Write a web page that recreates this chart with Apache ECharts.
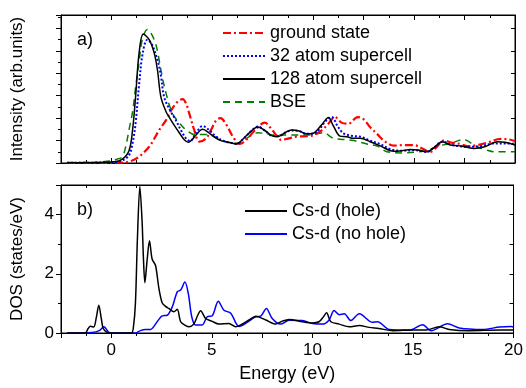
<!DOCTYPE html>
<html>
<head>
<meta charset="utf-8">
<script src="https://cdn.jsdelivr.net/npm/echarts@6/dist/echarts.min.js"></script>
<style>html,body{margin:0;padding:0;background:#fff}#c{width:526px;height:388px}</style>
</head>
<body>
<div id="c"></div>
<script>
// ---- data (energy in eV, intensity in arb. units, DOS in states/eV) ----
const xTickLabels = [0, 5, 10, 15, 20];
const dosTickLabels = [0, 2, 4];

const groundState = [[-2.2,0.02],[0,0.02],[0.54,0.03],[1.0,0.2],[1.37,0.56],[1.87,1.45],[2.1,2.1],[2.37,2.95],[2.7,3.8],[3.03,4.9],[3.3,5.5],[3.53,5.7],[3.7,5.3],[3.86,4.4],[4.1,2.95],[4.36,1.9],[4.69,2.2],[4.95,3.0],[5.19,3.8],[5.4,4.0],[5.7,3.4],[6.02,2.35],[6.35,1.7],[6.7,2.1],[7.1,2.9],[7.6,3.6],[7.9,3.1],[8.2,2.4],[8.42,2.05],[8.8,2.2],[9.17,2.35],[9.83,2.4],[10.33,2.8],[10.7,3.4],[11.08,4.1],[11.4,3.6],[11.74,3.5],[12.2,4.1],[12.5,3.9],[12.82,3.2],[13.16,2.6],[13.5,2.0],[13.98,1.55],[14.5,1.6],[14.98,1.6],[15.4,1.3],[15.8,1.0],[16.1,1.4],[16.47,2.0],[16.9,1.8],[17.3,1.7],[17.64,1.5],[18.14,1.6],[18.6,1.8],[19.3,2.15],[19.7,2.1],[20,1.95]];

const atom32 = [[-2.2,0.02],[-1,0.03],[0,0.06],[0.5,0.2],[0.87,0.7],[1.05,1.8],[1.2,3.6],[1.37,7.0],[1.55,9.8],[1.78,11.0],[2.0,10.6],[2.28,9.2],[2.45,7.8],[2.61,5.9],[2.9,4.7],[3.2,3.8],[3.45,2.9],[3.7,2.2],[3.9,1.95],[4.2,2.7],[4.52,3.3],[4.86,2.9],[5.19,2.35],[5.5,2.0],[5.9,1.8],[6.2,1.7],[6.5,2.1],[6.9,2.8],[7.26,3.25],[7.6,2.9],[8.0,2.4],[8.3,2.4],[8.6,2.7],[8.92,2.9],[9.3,2.85],[9.67,2.6],[10.0,2.6],[10.3,3.0],[10.6,3.7],[10.92,4.1],[11.2,3.3],[11.5,2.65],[12.0,2.4],[12.33,2.35],[12.82,2.0],[13.3,1.7],[13.98,1.15],[14.5,1.1],[15.0,1.15],[15.65,1.0],[16.0,1.4],[16.4,1.9],[16.9,1.6],[17.6,1.45],[18.3,1.5],[18.97,1.75],[19.5,1.75],[20,1.7]];

const atom128 = [[-2.2,0.02],[-1,0.03],[0,0.08],[0.5,0.3],[0.87,1.1],[1.05,3.0],[1.2,6.0],[1.37,9.8],[1.58,11.5],[1.87,11.0],[2.12,9.8],[2.28,8.3],[2.45,5.9],[2.7,4.6],[2.86,4.1],[3.1,3.4],[3.36,2.7],[3.6,2.1],[3.81,1.85],[4.0,2.1],[4.19,2.5],[4.52,3.0],[4.86,2.65],[5.2,2.2],[5.5,1.95],[5.9,1.8],[6.2,1.7],[6.5,2.1],[6.9,2.8],[7.26,3.2],[7.6,2.9],[8.0,2.4],[8.24,2.35],[8.6,2.7],[8.92,2.95],[9.3,2.85],[9.67,2.6],[10.0,2.65],[10.2,2.95],[10.5,3.6],[10.75,4.05],[11.0,3.3],[11.33,2.4],[11.66,2.35],[12.0,2.2],[12.33,2.2],[12.82,1.9],[13.3,1.55],[13.98,1.05],[14.4,1.1],[14.8,1.2],[15.2,1.15],[15.65,1.0],[16.0,1.4],[16.4,1.9],[16.8,1.6],[17.14,1.55],[17.5,1.45],[17.97,1.3],[18.5,1.45],[19.13,1.9],[19.5,1.85],[20,1.6]];

const bse = [[-2.2,0.02],[-1,0.05],[-0.5,0.1],[0,0.2],[0.3,0.35],[0.54,0.56],[0.7,1.4],[0.87,2.95],[1.05,4.6],[1.2,6.8],[1.37,9.0],[1.53,11.0],[1.78,11.9],[2.12,11.0],[2.3,9.8],[2.45,8.3],[2.7,6.25],[3.03,4.4],[3.4,3.5],[3.7,2.95],[4.19,2.5],[4.5,2.55],[4.86,2.5],[5.3,2.2],[5.69,1.9],[6.0,1.8],[6.27,1.75],[6.7,2.2],[7.26,2.7],[7.7,2.6],[8.0,2.5],[8.9,2.5],[9.67,2.5],[10.2,2.6],[10.5,2.7],[11.0,2.2],[11.5,2.1],[12.0,2.0],[12.66,1.7],[13.2,1.5],[13.65,1.0],[14.5,0.9],[15.2,1.0],[15.65,1.15],[16.2,1.5],[16.8,1.75],[17.47,2.1],[17.8,1.8],[18.14,1.45],[18.6,1.15],[18.97,1.0],[20,1.0]];

const csdHole = [[-2.2,0],[-1.3,0],[-1.15,0.15],[-1.04,0.23],[-0.87,0.2],[-0.75,0.5],[-0.62,0.94],[-0.5,0.5],[-0.4,0.15],[-0.21,0.02],[0,0],[1.0,0],[1.1,0.2],[1.2,1.0],[1.3,3.2],[1.42,4.95],[1.53,3.8],[1.6,2.5],[1.67,1.7],[1.78,2.45],[1.9,3.12],[2.03,2.5],[2.2,2.28],[2.37,1.5],[2.53,1.02],[2.7,0.9],[2.86,0.83],[3.11,0.72],[3.28,0.8],[3.45,0.38],[3.7,0.25],[3.86,0.21],[4.1,0.3],[4.3,0.6],[4.44,0.75],[4.69,0.49],[5.0,0.4],[5.35,0.3],[5.85,0.32],[6.18,0.21],[6.5,0.3],[6.85,0.44],[7.18,0.57],[7.68,0.44],[8.18,0.3],[8.5,0.4],[8.84,0.46],[9.5,0.38],[10.0,0.34],[10.33,0.38],[10.55,0.55],[10.7,0.68],[10.92,0.38],[11.33,0.3],[11.83,0.21],[12.33,0.25],[12.82,0.19],[13.3,0.15],[14.0,0.08],[15.0,0.1],[15.65,0.1],[16.3,0.21],[16.8,0.12],[17.8,0.08],[19.3,0.1],[20,0.1]];

const csdNoHole = [[-2.2,0],[-0.95,0.02],[-0.6,0.08],[-0.37,0.21],[-0.12,0.02],[0,0],[1.2,0],[1.45,0.08],[1.7,0.12],[1.95,0.12],[2.28,0.38],[2.53,0.58],[2.78,0.6],[3.03,0.88],[3.28,1.39],[3.45,1.45],[3.66,1.72],[3.83,1.33],[4.0,0.55],[4.19,0.27],[4.52,0.27],[4.77,0.55],[5.02,0.58],[5.32,1.07],[5.6,0.77],[5.94,0.67],[6.35,0.22],[6.76,0.36],[7.18,0.55],[7.43,0.57],[7.71,0.83],[8.0,0.49],[8.42,0.3],[8.84,0.43],[9.5,0.42],[10.0,0.32],[10.5,0.3],[10.83,0.44],[11.08,0.76],[11.33,0.62],[11.58,0.65],[11.91,0.42],[12.33,0.65],[12.99,0.36],[13.24,0.38],[13.82,0.12],[14.82,0.1],[15.48,0.28],[15.9,0.08],[16.72,0.31],[17.3,0.17],[18.47,0.12],[19.3,0.2],[19.88,0.22],[20,0.2]];

// ---- chart ----
const FONT = "'Liberation Sans', Arial, sans-serif";
const chart = echarts.init(document.getElementById('c'), null, {renderer: 'canvas'});
const black = '#000';

function xAx(grid, pos, showLabels, inside, name) {
  return {
    type: 'value', gridIndex: grid, position: pos, min: -2.5, max: 20, interval: 2.5,
    axisLine: {show: true, onZero: false, lineStyle: {color: black, width: 1}},
    axisTick: {show: true, inside: inside, length: 5, lineStyle: {color: black}},
    minorTick: {show: true, splitNumber: 2, length: 3, lineStyle: {color: black}},
    splitLine: {show: false},
    axisLabel: {show: showLabels, margin: 9, color: black, fontFamily: FONT, fontSize: 17,
      formatter: v => (xTickLabels.indexOf(v) >= 0 ? String(v) : '')},
    name: name || '', nameLocation: 'middle', nameGap: 32,
    nameTextStyle: {color: black, fontFamily: FONT, fontSize: 18}
  };
}

const option = {
  animation: false,
  backgroundColor: '#fff',
  grid: [
    {left: 61, top: 15, width: 454, height: 148, show: true, borderColor: black, borderWidth: 1},
    {left: 61, top: 185, width: 454, height: 148, show: true, borderColor: black, borderWidth: 1}
  ],
  xAxis: [
    xAx(0, 'bottom', false, true),
    xAx(0, 'top', false, true),
    xAx(1, 'bottom', true, false, 'Energy (eV)'),
    xAx(1, 'top', false, true)
  ],
  yAxis: [
    {type: 'value', gridIndex: 0, position: 'left', min: 0, max: 13.2, interval: 2,
      axisLine: {show: true, onZero: false, lineStyle: {color: black}},
      axisTick: {show: true, inside: false, length: 5, lineStyle: {color: black}},
      minorTick: {show: true, splitNumber: 2, length: 3, lineStyle: {color: black}},
      splitLine: {show: false}, axisLabel: {show: false},
      name: 'Intensity (arb.units)', nameLocation: 'middle', nameGap: 35, nameRotate: 90,
      nameTextStyle: {color: black, fontFamily: FONT, fontSize: 17}},
    {type: 'value', gridIndex: 0, position: 'right', min: 0, max: 13.2, interval: 2,
      axisLine: {show: true, onZero: false, lineStyle: {color: black}},
      axisTick: {show: true, inside: true, length: 4, lineStyle: {color: black}},
      splitLine: {show: false}, axisLabel: {show: false}},
    {type: 'value', gridIndex: 1, position: 'left', min: 0, max: 5, interval: 2,
      axisLine: {show: true, onZero: false, lineStyle: {color: black}},
      axisTick: {show: true, inside: false, length: 5, lineStyle: {color: black}},
      minorTick: {show: true, splitNumber: 2, length: 3, lineStyle: {color: black}},
      splitLine: {show: false},
      axisLabel: {show: true, margin: 7, color: black, fontFamily: FONT, fontSize: 17,
        formatter: v => (dosTickLabels.indexOf(v) >= 0 ? String(v) : '')},
      name: 'DOS (states/eV)', nameLocation: 'middle', nameGap: 35, nameRotate: 90,
      nameTextStyle: {color: black, fontFamily: FONT, fontSize: 17}},
    {type: 'value', gridIndex: 1, position: 'right', min: 0, max: 5, interval: 1,
      axisLine: {show: true, onZero: false, lineStyle: {color: black}},
      axisTick: {show: true, inside: true, length: 4, lineStyle: {color: black}},
      splitLine: {show: false}, axisLabel: {show: false}}
  ],
  legend: [
    {left: 222, top: 24, orient: 'vertical', itemWidth: 42, itemHeight: 14, itemGap: 5, padding: 0,
      itemStyle: {opacity: 0},
      data: ['ground state', '32 atom supercell', '128 atom supercell', 'BSE'],
      textStyle: {color: black, fontFamily: FONT, fontSize: 18, lineHeight: 18}},
    {left: 244, top: 202, orient: 'vertical', itemWidth: 42, itemHeight: 14, itemGap: 5, padding: 0,
      itemStyle: {opacity: 0},
      data: ['Cs-d (hole)', 'Cs-d (no hole)'],
      textStyle: {color: black, fontFamily: FONT, fontSize: 18, lineHeight: 18}}
  ],
  graphic: [
    {type: 'text', left: 77, top: 31, style: {text: 'a)', font: '18px ' + FONT, fill: black}},
    {type: 'text', left: 77, top: 201, style: {text: 'b)', font: '18px ' + FONT, fill: black}}
  ],
  series: [
    {name: 'ground state', type: 'line', xAxisIndex: 0, yAxisIndex: 0, data: groundState,
      symbol: 'none', smooth: 0.35, z: 2, color: '#ff0000',
      lineStyle: {color: '#ff0000', width: 2.2, type: [8, 3, 2, 3]}},
    {name: '32 atom supercell', type: 'line', xAxisIndex: 0, yAxisIndex: 0, data: atom32,
      symbol: 'none', smooth: 0.35, z: 3, color: '#0000ff',
      lineStyle: {color: '#0000ff', width: 2, type: [2, 2]}},
    {name: '128 atom supercell', type: 'line', xAxisIndex: 0, yAxisIndex: 0, data: atom128,
      symbol: 'none', smooth: 0.35, z: 4, color: black,
      lineStyle: {color: black, width: 1.5}},
    {name: 'BSE', type: 'line', xAxisIndex: 0, yAxisIndex: 0, data: bse,
      symbol: 'none', smooth: 0.35, z: 1, color: '#008000',
      lineStyle: {color: '#008000', width: 1.5, type: [7, 5]}},
    {name: 'Cs-d (hole)', type: 'line', xAxisIndex: 2, yAxisIndex: 2, data: csdHole,
      symbol: 'none', smooth: 0.3, z: 3, color: black,
      lineStyle: {color: black, width: 1.5}},
    {name: 'Cs-d (no hole)', type: 'line', xAxisIndex: 2, yAxisIndex: 2, data: csdNoHole,
      symbol: 'none', smooth: 0.3, z: 2, color: '#0000ff',
      lineStyle: {color: '#0000ff', width: 1.5}}
  ]
};
chart.setOption(option);
</script>
</body>
</html>
